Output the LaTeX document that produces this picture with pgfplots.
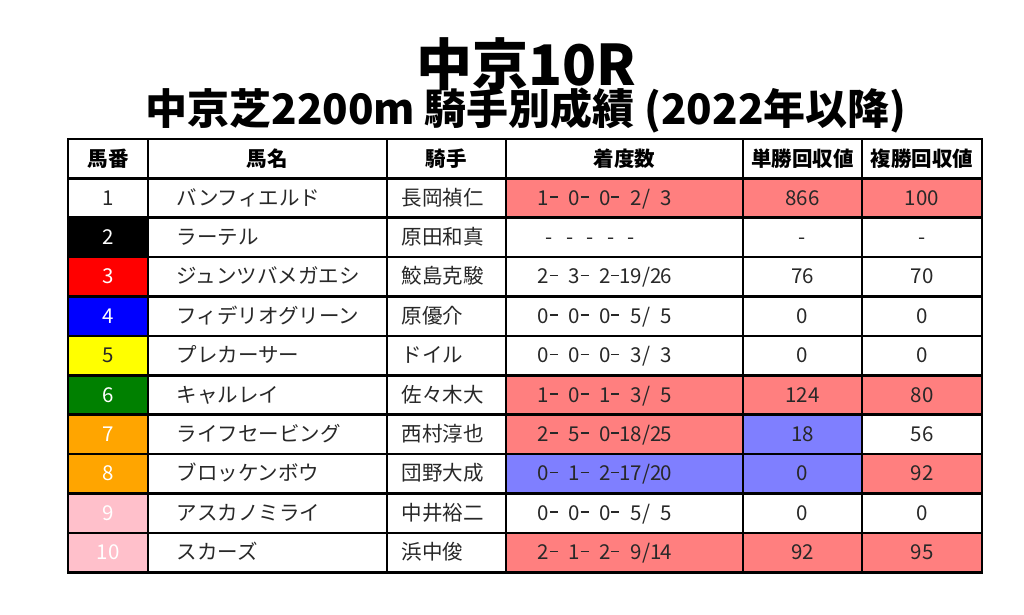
\documentclass[border=0pt]{standalone}
\usepackage{fontspec}
\setmainfont{Noto Sans CJK JP}
\usepackage{pgfplots}
\pgfplotsset{compat=1.18}

\definecolor{hitred}{RGB}{255,127,127}
\definecolor{hitblue}{RGB}{127,127,255}
\definecolor{waku3}{RGB}{255,0,0}
\definecolor{waku4}{RGB}{0,0,255}
\definecolor{waku5}{RGB}{255,255,0}
\definecolor{waku6}{RGB}{0,128,0}
\definecolor{waku7}{RGB}{255,165,0}
\definecolor{waku9}{RGB}{255,192,203}
\definecolor{ink}{RGB}{40,40,40}

\newcommand{\cf}{\fontsize{20.5}{24}\selectfont}
\newcommand{\hf}{\bfseries\fontsize{20.5}{24}\selectfont}

% record string set on a fixed half-width pitch:
% "." is a space, "-" a wide dash, "=" a plain hyphen
\def\rec#1{\recloop#1\relax}
\def\recloop#1{\ifx#1\relax\else
  \makebox[10.25pt][c]{\ifx#1.\else\ifx#1-\rule[0.36em]{8pt}{1.6pt}\else\ifx#1=-\else#1\fi\fi\fi}%
  \expandafter\recloop\fi}

% x1, x2, top, bottom, fill
\newcommand{\cell}[5]{\addplot[draw=none,fill=#5] coordinates {(#1,#3) (#2,#3) (#2,#4) (#1,#4)};}

% top, bottom, number, number bg, number fg, horse name
\newcommand{\horse}[6]{%
  \cell{68}{148}{#1}{#2}{#4}
  \node[anchor=base,text=#5,font=\cf] at (axis cs:108,{(#1+#2)/2+7}) {#3};
  \node[anchor=base west,text=ink,font=\cf] at (axis cs:173,{(#1+#2)/2+7}) {#6};}

% top, bottom, jockey, record, record bg, win, win bg, place, place bg
\newcommand{\result}[9]{%
  \cell{506}{743}{#1}{#2}{#5}
  \cell{743}{862}{#1}{#2}{#7}
  \cell{862}{982}{#1}{#2}{#9}
  \node[anchor=base west,text=ink,font=\cf] at (axis cs:398,{(#1+#2)/2+7}) {#3};
  \node[anchor=base west,text=ink,font=\cf] at (axis cs:535,{(#1+#2)/2+7}) {#4};
  \node[anchor=base,text=ink,font=\cf] at (axis cs:802.5,{(#1+#2)/2+7}) {#6};
  \node[anchor=base,text=ink,font=\cf] at (axis cs:922,{(#1+#2)/2+7}) {#8};}

\begin{document}
\begin{tikzpicture}
\begin{axis}[
    width=1024pt, height=614pt,
    scale only axis,
    xmin=0, xmax=1024,
    ymin=0, ymax=614,
    y dir=reverse,
    hide axis,
    clip=false,
    every node/.append style={inner sep=0pt}
]
\cell{0}{1024}{0}{614}{white}

% title
\node[anchor=base,text=black,font=\bfseries\fontsize{56}{60}\selectfont] at (axis cs:526,85) {中京10R};
\node[anchor=base,text=black,font=\bfseries\fontsize{42}{46}\selectfont] at (axis cs:526,124) {中京芝2200m 騎手別成績 (2022年以降)};

% header
\node[anchor=base,text=black,font=\hf] at (axis cs:108,166) {馬番};
\node[anchor=base,text=black,font=\hf] at (axis cs:267,166) {馬名};
\node[anchor=base,text=black,font=\hf] at (axis cs:446,166) {騎手};
\node[anchor=base,text=black,font=\hf] at (axis cs:624.5,166) {着度数};
\node[anchor=base,text=black,font=\hf] at (axis cs:802.5,166) {単勝回収値};
\node[anchor=base,text=black,font=\hf] at (axis cs:922,166) {複勝回収値};

% rows
\horse{178.3}{217.7}{1}{white}{ink}{バンフィエルド}
\result{178.3}{217.7}{長岡禎仁}{\rec{1-.0-.0-.2/.3}}{hitred}{866}{hitred}{100}{hitred}
\horse{217.7}{257.1}{2}{black}{white}{ラーテル}
\result{217.7}{257.1}{原田和真}{\kern5.4pt\rec{=.=.=.=.=}}{white}{-}{white}{-}{white}
\horse{257.1}{296.5}{3}{waku3}{white}{ジュンツバメガエシ}
\result{257.1}{296.5}{鮫島克駿}{\rec{2-.3-.2-19/26}}{white}{76}{white}{70}{white}
\horse{296.5}{335.9}{4}{waku4}{white}{フィデリオグリーン}
\result{296.5}{335.9}{原優介}{\rec{0-.0-.0-.5/.5}}{white}{0}{white}{0}{white}
\horse{335.9}{375.3}{5}{waku5}{ink}{プレカーサー}
\result{335.9}{375.3}{ドイル}{\rec{0-.0-.0-.3/.3}}{white}{0}{white}{0}{white}
\horse{375.3}{414.7}{6}{waku6}{white}{キャルレイ}
\result{375.3}{414.7}{佐々木大}{\rec{1-.0-.1-.3/.5}}{hitred}{124}{hitred}{80}{hitred}
\horse{414.7}{454.1}{7}{waku7}{white}{ライフセービング}
\result{414.7}{454.1}{西村淳也}{\rec{2-.5-.0-18/25}}{hitred}{18}{hitblue}{56}{white}
\horse{454.1}{493.5}{8}{waku7}{white}{ブロッケンボウ}
\result{454.1}{493.5}{団野大成}{\rec{0-.1-.2-17/20}}{hitblue}{0}{hitblue}{92}{hitred}
\horse{493.5}{532.9}{9}{waku9}{white}{アスカノミライ}
\result{493.5}{532.9}{中井裕二}{\rec{0-.0-.0-.5/.5}}{white}{0}{white}{0}{white}
\horse{532.9}{572.3}{10}{waku9}{white}{スカーズ}
\result{532.9}{572.3}{浜中俊}{\rec{2-.1-.2-.9/14}}{hitred}{92}{hitred}{95}{hitred}

% grid lines
\pgfplotsinvokeforeach{139,178.3,217.7,257.1,296.5,335.9,375.3,414.7,454.1,493.5,532.9,572.3}{
  \addplot[black,line width=2.6pt,line cap=rect] coordinates {(68,#1) (982,#1)};
}
\pgfplotsinvokeforeach{68,148,387,506,743,862,982}{
  \addplot[black,line width=2.6pt,line cap=rect] coordinates {(#1,139) (#1,572.3)};
}
\end{axis}
\end{tikzpicture}
\end{document}
